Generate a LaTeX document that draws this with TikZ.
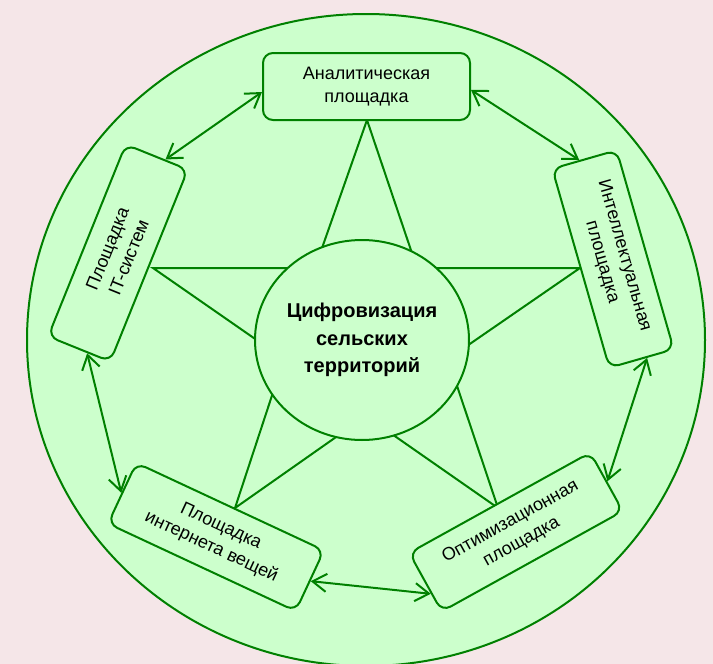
\documentclass[tikz,border=0pt]{standalone}
\usepackage{fontspec}
\setmainfont{Liberation Sans}
\usetikzlibrary{arrows.meta,calc,shapes.geometric}
\definecolor{pagebg}{HTML}{F5E6E8}
\definecolor{lightgr}{HTML}{CCFFCC}
\definecolor{darkgr}{HTML}{008000}
\begin{document}
\begin{tikzpicture}[x=0.5pt,y=-0.5pt,line width=1pt,
		platform/.style={draw=darkgr, fill=lightgr, rounded corners=5pt, minimum width=103.5pt, minimum height=33.5pt, inner sep=1pt, align=center, font=\fontsize{9}{11.5}\selectfont},
		core/.style={draw=darkgr, fill=lightgr, ellipse, minimum width=107pt, minimum height=100pt, inner sep=0pt, align=center, font=\fontsize{10}{13.75}\selectfont\bfseries},
		link/.style={draw=darkgr, {Straight Barb[length=7pt,width=9pt]}-{Straight Barb[length=7pt,width=9pt]}}]
			\useasboundingbox (0,0) rectangle (713,664);
			\fill[pagebg] (0,0) rectangle (713,664);
			\draw[darkgr, fill=lightgr] (366,340) ellipse [x radius=339, y radius=326];
			\coordinate (T) at (367,120);
			\coordinate (R) at (580,268);
			\coordinate (BR) at (498,508);
			\coordinate (BL) at (235,508);
			\coordinate (L) at (153,268);
			\coordinate (Ia) at (417,268);
			\coordinate (Ib) at (448,359);
			\coordinate (Ic) at (366,416);
			\coordinate (Id) at (284,359);
			\coordinate (Ie) at (315,268);
			\draw[darkgr] (T) -- (Ia) -- (R) -- (Ib) -- (BR) -- (Ic) -- (BL) -- (Id) -- (L) -- (Ie) -- cycle;
			\node[core] (digit) at (362,340) {Цифровизация\\сельских\\территорий};
			\node[platform] (analit) at (366.5,86.5) {Аналитическая\\площадка};
			\node[platform, rotate=-74] (intel) at (613,259) {Интеллектуальная\\площадка};
			\node[platform, rotate=68] (itsys) at (118,253) {Площадка\\IT-систем};
			\node[platform, rotate=-25] (iot) at (216,537) {Площадка\\интернета вещей};
			\node[platform, rotate=29] (optim) at (516,532) {Оптимизационная\\площадка};
			\draw[link] ($(analit.west)!0.16!(analit.south west)$) -- ($(itsys.east)!0.26!(itsys.south east)$);
			\draw[link] ($(analit.east)!0.1!(analit.south east)$) -- ($(intel.west)!0.15!(intel.south west)$);
			\draw[link] ($(intel.east)!0.16!(intel.north east)$) -- (optim.east);
			\draw[link] ($(optim.west)!0.37!(optim.south west)$) -- (iot.east);
			\draw[link] (iot.west) -- ($(itsys.west)!0.26!(itsys.south west)$);
		\end{tikzpicture}
\end{document}
